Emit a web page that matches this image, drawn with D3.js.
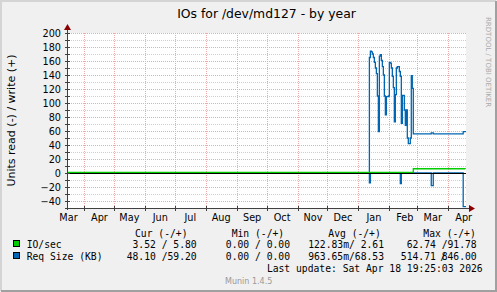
<!DOCTYPE html>
<html>
<head>
<meta charset="utf-8">
<script src="https://cdn.jsdelivr.net/npm/d3@7/dist/d3.min.js"></script>
<style>
body { margin: 0; background: #f0f0f0; }
svg { display: block; }
text { font-family: "DejaVu Sans", sans-serif; }
.mono text { font-family: "DejaVu Sans Mono", monospace; font-size: 9.7px; white-space: pre; }
</style>
</head>
<body>
<svg width="497" height="292"></svg>
<script>
// ---- data ----
var monthLabels = ["Mar","Apr","May","Jun","Jul","Aug","Sep","Oct","Nov","Dec","Jan","Feb","Mar","Apr"]
var yTicks = [-40,-20,0,20,40,60,80,100,120,140,160,180,200]

// Req Size (KB), one value per day starting 2026-01-11
var reqStart = "2026-01-11"
var reqWrite = [0,
  165,174,173,170,165,158,150,142,110,59,
  167,169,161,152,140,110,83,109,109,110,
  158,157,150,138,122,73,112,150,152,152,
  145,138,71,111,111,90,68,90,50,42,
  42,50,139,121,56,56,56,56,56,56,
  56,56,56,56,56,56,56,56,56,56,
  56,56,57.4,57.4,56,56,56,56,56,56,
  56,56,56,56,56,56,56,56,56,56,
  56,56,56,56,56,56,56,56,56,56,
  56,56,56,56,59.2,59.2,59.2]
var reqRead = [0,
  14,0,0,0,0,0,0,0,0,0,
  0,0,0,0,0,0,0,0,0,0,
  0,0,0,0,0,0,0,0,0,0,
  0,15,0,0,0,0,0,0,0,0,
  0,0,0,0,0,0,0,0,0,0,
  0,0,0,0,0,0,0,0,0,0,
  0,0,18,18,0,0,0,0,0,0,
  0,0,0,0,0,0,0,0,0,0,
  0,0,0,0,0,0,0,0,0,0,
  0,0,0,0,48.1,48.1,48.1]

// IO/sec write, step changes
var ioDates = ["2025-03-15","2026-02-25","2026-04-18"]
var ioWrite = [1, 6.1, 5.8]

var legendNames = ["IO/sec","Req Size (KB)"]
var legendColors = ["#00cc00","#0066b3"]
var legendCur = ["3.52 / 5.80","48.10 /59.20"]
var legendMin = ["0.00 / 0.00","0.00 / 0.00"]
var legendAvg = ["122.83m/ 2.61","963.65m/68.53"]
var legendMax = ["62.74 /91.78","514.71 846.00"]

var svg = d3.select("svg")
var W = 497, H = 292
var pl = 67, pr = 466, pt = 33, pb = 208

var t0 = new Date(Date.UTC(2025,2,15,0,0))
var t1 = new Date(Date.UTC(2026,3,18,19,25))
var x = d3.scaleUtc().domain([t0, t1]).range([pl, pr])
var y = d3.scaleLinear().domain([-50, 200]).range([pb, pt])

// frame
svg.append("rect").attr("width", W).attr("height", H).attr("fill", "#f0f0f0")
svg.append("path").attr("d", "M1," + (H-1) + "V1H" + (W-1)).attr("stroke", "#d4d4d4").attr("stroke-width", 2).attr("fill", "none")
svg.append("path").attr("d", "M1," + (H-1) + "H" + (W-1) + "V1").attr("stroke", "#a0a0a0").attr("stroke-width", 2).attr("fill", "none")

svg.append("rect").attr("x", pl).attr("y", pt).attr("width", pr - pl).attr("height", pb - pt).attr("fill", "#fff")

// grid
var minor = d3.range(-50, 201, 10).filter(function(v){ return yTicks.indexOf(v) < 0 })
svg.append("g").selectAll("line").data(minor).enter().append("line")
  .attr("x1", pl).attr("x2", pr)
  .attr("y1", function(d){ return Math.round(y(d)) + 0.5 })
  .attr("y2", function(d){ return Math.round(y(d)) + 0.5 })
  .attr("stroke", "#cfcfcf").attr("stroke-dasharray", "1,1")
svg.append("g").selectAll("line").data(yTicks).enter().append("line")
  .attr("x1", pl).attr("x2", pr)
  .attr("y1", function(d){ return Math.round(y(d)) + 0.5 })
  .attr("y2", function(d){ return Math.round(y(d)) + 0.5 })
  .attr("stroke", "#f0a8a8").attr("stroke-dasharray", "1,1")

var monthStarts = d3.utcMonth.range(new Date(Date.UTC(2025,3,1)), t1)
svg.append("g").selectAll("line").data(monthStarts).enter().append("line")
  .attr("x1", function(d){ return Math.round(x(d)) + 0.5 })
  .attr("x2", function(d){ return Math.round(x(d)) + 0.5 })
  .attr("y1", pt).attr("y2", pb)
  .attr("stroke", "#f0a8a8").attr("stroke-dasharray", "1,1")

// series
var reqDates = reqWrite.map(function(v, i){ return d3.utcDay.offset(new Date(reqStart + "T00:00:00Z"), i) })
var stepLine = d3.line().curve(d3.curveStepAfter)
  .x(function(d){ return x(d[0]) }).y(function(d){ return y(d[1]) })

svg.append("path")
  .datum(reqDates.map(function(d, i){ return [d, -reqRead[i]] }).concat([[t1, -reqRead[reqRead.length-1]]]))
  .attr("d", stepLine).attr("fill", "none").attr("stroke", "#0066b3").attr("stroke-width", 1.3)
svg.append("path")
  .datum(reqDates.map(function(d, i){ return [d, reqWrite[i]] }).concat([[t1, reqWrite[reqWrite.length-1]]]))
  .attr("d", stepLine).attr("fill", "none").attr("stroke", "#0066b3").attr("stroke-width", 1.3)

// zero rule
svg.append("line").attr("x1", pl).attr("x2", pr)
  .attr("y1", Math.round(y(0)) + 0.5).attr("y2", Math.round(y(0)) + 0.5)
  .attr("stroke", "#000")

svg.append("path")
  .datum(ioDates.map(function(d, i){ return [new Date(d + "T00:00:00Z"), ioWrite[i]] }))
  .attr("d", stepLine).attr("fill", "none").attr("stroke", "#00cc00").attr("stroke-width", 1.3)

// axes
var axisColor = "#404040"
svg.append("line").attr("x1", pl + 0.5).attr("x2", pl + 0.5).attr("y1", pb + 2).attr("y2", pt - 4)
  .attr("stroke", axisColor)
svg.append("line").attr("x1", pl - 2).attr("x2", pr + 4).attr("y1", pb + 0.5).attr("y2", pb + 0.5)
  .attr("stroke", axisColor)
svg.append("path").attr("d", "M" + (pl + 0.5) + "," + (pt - 9) + "l-3.5,6h7z").attr("fill", "#8b0000")
svg.append("path").attr("d", "M" + (pr + 9) + "," + (pb + 0.5) + "l-6,-3.5v7z").attr("fill", "#8b0000")

// ticks on axes
svg.append("g").selectAll("line").data(d3.range(-50, 201, 10)).enter().append("line")
  .attr("x1", pl - 2).attr("x2", pl + 3)
  .attr("y1", function(d){ return Math.round(y(d)) + 0.5 })
  .attr("y2", function(d){ return Math.round(y(d)) + 0.5 })
  .attr("stroke", axisColor)
svg.append("g").selectAll("line").data(monthStarts).enter().append("line")
  .attr("x1", function(d){ return Math.round(x(d)) + 0.5 })
  .attr("x2", function(d){ return Math.round(x(d)) + 0.5 })
  .attr("y1", pb - 2).attr("y2", pb + 3)
  .attr("stroke", axisColor)

var yAxis = svg.append("g").attr("transform", "translate(" + (pl - 3) + ",0)")
  .call(d3.axisLeft(y).tickValues(yTicks).tickSize(0).tickPadding(3))
yAxis.select(".domain").remove()
yAxis.selectAll("text").attr("font-family", "DejaVu Sans").attr("font-size", "9.7px").attr("fill", "#000")

var labelDates = d3.utcMonth.range(new Date(Date.UTC(2025,2,1)), t1).map(function(d){ return d3.utcDay.offset(d, 15) })
var xAxis = svg.append("g").attr("transform", "translate(0," + pb + ")")
  .call(d3.axisBottom(x).tickValues(labelDates).tickSize(0).tickPadding(6)
    .tickFormat(function(d, i){ return monthLabels[i] }))
xAxis.select(".domain").remove()
xAxis.selectAll("text").attr("font-family", "DejaVu Sans").attr("font-size", "9.7px").attr("fill", "#000")

// titles
svg.append("text").attr("x", (pl + pr) / 2).attr("y", 18).attr("text-anchor", "middle")
  .attr("font-size", "12.4px").text("IOs for /dev/md127 - by year")
svg.append("text").attr("transform", "translate(15," + ((pt + pb) / 2) + ") rotate(-90)")
  .attr("text-anchor", "middle").attr("font-size", "11px").text("Units read (-) / write (+)")
svg.append("text").attr("transform", "translate(485.5,17) rotate(90)")
  .attr("font-size", "7px").attr("fill", "#aaa").text("RRDTOOL / TOBI OETIKER")

// legend
var lg = svg.append("g").attr("class", "mono")
var heads = [["Cur (-/+)", 135], ["Min (-/+)", 231.7], ["Avg (-/+)", 328.3], ["Max (-/+)", 423.3]]
heads.forEach(function(h){ lg.append("text").attr("x", h[1]).attr("y", 236.5).text(h[0]) })

legendNames.forEach(function(name, i){
  var by = 248 + i * 12
  lg.append("rect").attr("x", 13.5).attr("y", by - 7.5).attr("width", 6).attr("height", 6)
    .attr("fill", legendColors[i]).attr("stroke", "#000")
  lg.append("text").attr("x", 26.7).attr("y", by).text(name)
  lg.append("text").attr("x", 196.7).attr("y", by).attr("text-anchor", "end").text(legendCur[i])
  lg.append("text").attr("x", 290).attr("y", by).attr("text-anchor", "end").text(legendMin[i])
  lg.append("text").attr("x", 384).attr("y", by).attr("text-anchor", "end").text(legendAvg[i])
  lg.append("text").attr("x", 476.7).attr("y", by).attr("text-anchor", "end").text(legendMax[i])
})
// overlapping slash in the last max cell
lg.append("text").attr("x", 476.7 - 6 * 5.84 - 1.5).attr("y", 260).text("/")

lg.append("text").attr("x", 482.7).attr("y", 272).attr("text-anchor", "end")
  .text("Last update: Sat Apr 18 19:25:03 2026")
svg.append("text").attr("x", 248.7).attr("y", 284).attr("text-anchor", "middle")
  .attr("font-size", "8px").attr("fill", "#999").text("Munin 1.4.5")
</script>
</body>
</html>
